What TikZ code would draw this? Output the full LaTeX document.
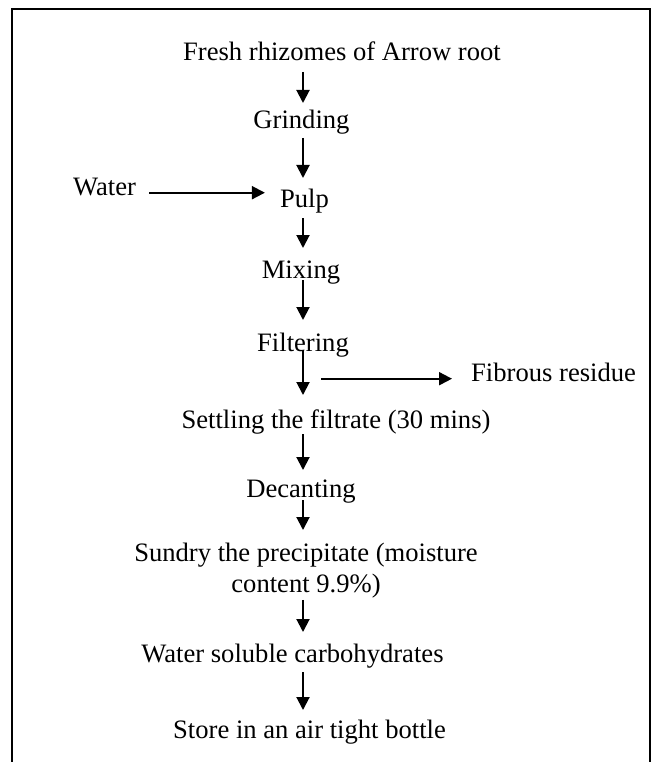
\documentclass[tikz,border=0pt]{standalone}
\usepackage{fontspec}
\setmainfont{Liberation Serif}
\usetikzlibrary{arrows.meta,calc}
\tikzset{
>={Triangle[length=13pt,width=13pt]},
  stage/.style={
    inner sep=0pt,
    anchor=base,
    font=\fontsize{26.6pt}{31pt}\selectfont},
  flow/.style={draw, line width=2pt, ->},
  frame/.style={draw, line width=1.8pt},
}

\begin{document}
\begin{tikzpicture}[x=1pt,y=-1pt]
  \useasboundingbox (0,0) rectangle (653,762);
  \draw[frame] (12,762) -- (12,9) -- (650,9) -- (650,762);
  \coordinate (col) at (303,0);
  % stages
  \node[stage] (fresh) at (342,61) {Fresh rhizomes of Arrow root};
  \node[stage] (grind) at (301.5,129) {Grinding};
  \node[stage] (water) at (104.5,195) {Water};
  \node[stage] (pulp) at (304.5,207) {Pulp};
  \node[stage] (mix) at (301,278) {Mixing};
  \node[stage] (filter) at (303,351) {Filtering};
  \node[stage, anchor=base west] (fibre) at (471,381) {Fibrous residue};
  \node[stage] (settle) at (336,428) {Settling the filtrate (30 mins)};
  \node[stage] (decant) at (301,497) {Decanting};
  % base of a two-line node is its last line
  \node[stage, align=center] (sundry) at (306,592)
    {Sundry the precipitate (moisture\\content 9.9\%)};
  \node[stage] (soluble) at (292.5,662) {Water soluble carbohydrates};
  \node[stage] (store) at (309.5,738) {Store in an air tight bottle};
  % arrows
  \draw[flow] ([yshift=-11pt]fresh.base -| col) -- ([yshift=26pt]grind.base -| col);
  \draw[flow] ([yshift=-9pt]grind.base -| col) -- ([yshift=29pt]pulp.base -| col);
  \draw[flow] ([xshift=13pt]water.mid east) -- ([xshift=-15pt]water.mid east -| pulp.west);
  \draw[flow] ([yshift=-11pt]pulp.base -| col) -- ([yshift=30pt]mix.base -| col);
  \draw[flow] ([yshift=-2pt]mix.base -| col) -- ([yshift=31pt]filter.base -| col);
  \draw[flow] ([yshift=1pt]filter.base -| col) -- ([yshift=33pt]settle.base -| col);
  \draw[flow] ([xshift=18pt]col |- fibre.mid) -- ([xshift=-19pt]fibre.mid west);
  \draw[flow] ([yshift=-6pt]settle.base -| col) -- ([yshift=27pt]decant.base -| col);
  \draw[flow] ([yshift=-3pt]decant.base -| col) -- ([yshift=62pt]sundry.base -| col);
  \draw[flow] ([yshift=-2pt]sundry.south -| col) -- ([yshift=30pt]soluble.base -| col);
  \draw[flow] ([yshift=-10pt]soluble.base -| col) -- ([yshift=28pt]store.base -| col);
\end{tikzpicture}
\end{document}
